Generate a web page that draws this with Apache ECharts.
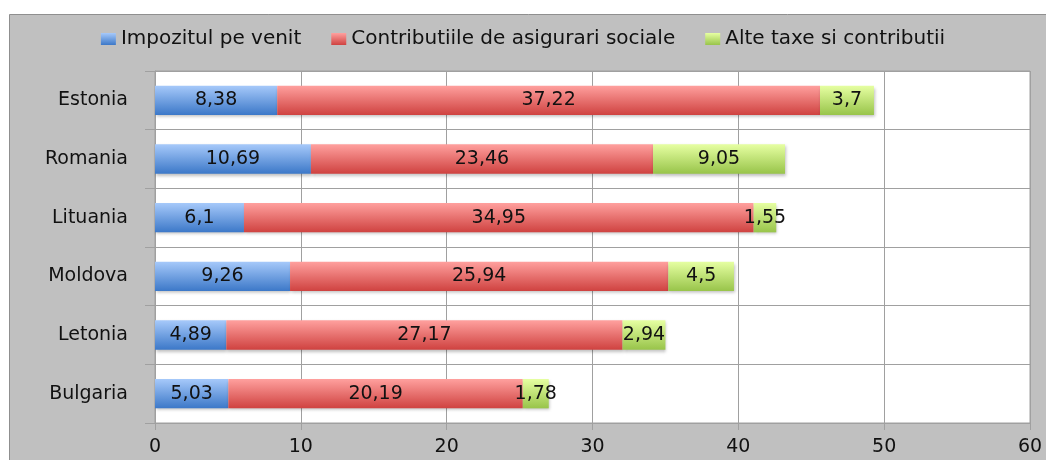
<!DOCTYPE html>
<html>
<head>
<meta charset="utf-8">
<script src="https://cdn.jsdelivr.net/npm/echarts@6/dist/echarts.min.js"></script>
<style>
html,body{margin:0;padding:0;background:#fff;}
#chart{width:1046px;height:460px;}
</style>
</head>
<body>
<div id="chart"></div>
<script>
var categories = ['Estonia', 'Romania', 'Lituania', 'Moldova', 'Letonia', 'Bulgaria'];
var seriesNames = ['Impozitul pe venit', 'Contributiile de asigurari sociale', 'Alte taxe si contributii'];
var impozit = [8.38, 10.69, 6.1, 9.26, 4.89, 5.03];
var contributii = [37.22, 23.46, 34.95, 25.94, 27.17, 20.19];
var alte = [3.7, 9.05, 1.55, 4.5, 2.94, 1.78];
var xTicks = [0, 10, 20, 30, 40, 50, 60];

function grad(top, bottom) {
  return new echarts.graphic.LinearGradient(0, 0, 0, 1, [
    {offset: 0, color: top},
    {offset: 1, color: bottom}
  ]);
}
var fills = [
  grad('#a6c9fa', '#3c78c8'),
  grad('#ffa09e', '#cf4240'),
  grad('#e6ffa2', '#98c44a')
];
var legendColors = [grad('#a6c9fa', '#3c78c8'), grad('#ffa09e', '#cf4240'), grad('#e6ffa2', '#98c44a')];
var dataSets = [impozit, contributii, alte];
var FONT = 'DejaVu Sans';

function fmt(v) { return String(v).replace('.', ','); }

var chart = echarts.init(document.getElementById('chart'), null, {renderer: 'canvas'});
var series = seriesNames.map(function (name, i) {
  return {
    name: name,
    type: 'bar',
    stack: 'total',
    barCategoryGap: '50%',
    data: dataSets[i],
    itemStyle: {
      color: fills[i],
      shadowColor: 'rgba(0,0,0,0.25)',
      shadowBlur: 3,
      shadowOffsetX: 1,
      shadowOffsetY: 2
    },
    label: {
      show: true,
      position: 'inside',
      formatter: function (p) { return fmt(p.value); },
      color: '#111111',
      fontFamily: FONT,
      fontSize: 19
    },
    emphasis: {disabled: true}
  };
});

chart.setOption({
  backgroundColor: '#ffffff',
  animation: false,
  graphic: [{
    type: 'rect',
    z: -10,
    silent: true,
    shape: {x: 9.5, y: 14.5, width: 1060, height: 470},
    style: {fill: '#c0c0c0', stroke: '#8f8f8f', lineWidth: 1}
  }],
  legend: {
    top: 24,
    left: 'center',
    itemWidth: 15,
    itemHeight: 12,
    itemGap: 30,
    icon: 'rect',
    data: seriesNames.map(function (n, i) { return {name: n, itemStyle: {color: legendColors[i]}}; }),
    textStyle: {fontFamily: FONT, fontSize: 20, color: '#111111'}
  },
  grid: {
    left: 155,
    right: 16,
    top: 71,
    bottom: 37,
    show: true,
    backgroundColor: '#ffffff',
    borderColor: '#a0a0a0',
    borderWidth: 1,
    containLabel: false
  },
  xAxis: {
    type: 'value',
    min: 0,
    max: 60,
    interval: 10,
    axisLine: {show: true, lineStyle: {color: '#a0a0a0'}},
    axisTick: {show: true, length: 7, lineStyle: {color: '#a0a0a0'}},
    splitLine: {show: true, lineStyle: {color: '#a0a0a0', width: 1}},
    axisLabel: {
      margin: 15,
      fontFamily: FONT,
      fontSize: 19,
      color: '#111111',
      formatter: function (v) { return xTicks.indexOf(v) >= 0 ? String(v) : ''; }
    }
  },
  yAxis: {
    type: 'category',
    inverse: true,
    data: categories,
    axisLine: {show: true, lineStyle: {color: '#a0a0a0'}},
    axisTick: {show: true, length: 10, lineStyle: {color: '#a0a0a0'}},
    splitLine: {show: true, lineStyle: {color: '#a0a0a0', width: 1}},
    axisLabel: {
      margin: 27,
      fontFamily: FONT,
      fontSize: 19,
      color: '#111111'
    }
  },
  series: series
});
</script>
</body>
</html>
